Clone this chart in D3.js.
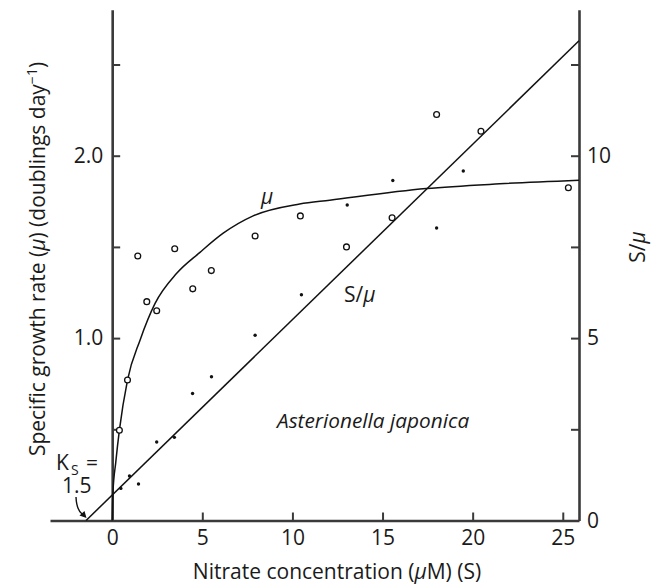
<!DOCTYPE html>
<html>
<head>
<meta charset="utf-8">
<script src="https://cdn.jsdelivr.net/npm/d3@7/dist/d3.min.js"></script>
<style>
  html, body { margin: 0; padding: 0; background: #fff; }
  svg { display: block; font-family: "Open Sans", sans-serif; }
</style>
</head>
<body>
<svg id="chart" width="654" height="585"></svg>
<script>
// ---- Data ----
// Open circles: specific growth rate mu vs nitrate S
const muPoints = [
  [0.40, 0.495], [0.85, 0.77], [1.42, 1.45], [1.92, 1.20], [2.47, 1.15],
  [3.47, 1.49], [4.47, 1.27], [5.50, 1.37], [7.93, 1.56], [10.44, 1.67],
  [13.0, 1.50], [15.53, 1.66], [18.0, 2.226], [20.46, 2.134], [25.31, 1.824]
];
// Small dots: S/mu vs S (right axis)
const sMuPoints = [
  [0.48, 0.88], [0.96, 1.22], [1.46, 1.00], [2.47, 2.15], [3.45, 2.28],
  [4.46, 3.48], [5.51, 3.94], [7.93, 5.08], [10.5, 6.19], [13.04, 8.65],
  [15.57, 9.32], [18.0, 8.02], [19.48, 9.58]
];
// Hand-drawn mu curve, traced
const muCurve = [
  [0, 0], [0.04, 0.15], [0.2, 0.32], [0.4, 0.495], [0.85, 0.77], [1.55, 0.99],
  [2.38, 1.19], [3.58, 1.355], [4.87, 1.47], [6.16, 1.575], [7.82, 1.67],
  [10.4, 1.735], [12.07, 1.756], [17.42, 1.82], [21.5, 1.846], [25.9, 1.866]
];
// Straight S/mu regression line, traced end points
const sMuLine = [[-1.45, 0], [25.9, 13.15]];

const xTicks = [0, 5, 10, 15, 20, 25];
const yLeftTicks = [0.5, 1.0, 1.5, 2.0, 2.5];
const yLeftLabels = [1.0, 2.0];
const yRightTicks = [0, 2.5, 5, 7.5, 10, 12.5];
const yRightLabels = [0, 5, 10];

// ---- Layout ----
const svg = d3.select("#chart");
const x = d3.scaleLinear().domain([-3.45, 25.9]).range([50, 579]);
const yL = d3.scaleLinear().domain([0, 2.8]).range([520.5, 9.8]);
const yR = d3.scaleLinear().domain([0, 14]).range([520.5, 9.8]);

const axisColor = "#3a3a3a";
const textColor = "#1a1a1a";
const tickFont = 21;
const titleFont = 21;

function styleAxis(g) {
  g.attr("font-family", null).attr("font-size", null);
  g.select(".domain").attr("stroke", axisColor).attr("stroke-width", 2.6);
  g.selectAll(".tick line").attr("stroke", axisColor).attr("stroke-width", 2);
  g.selectAll(".tick text").attr("fill", textColor)
    .style("font-family", '"Open Sans", sans-serif').style("font-size", tickFont + "px");
}

// Bottom axis
svg.append("g")
  .attr("transform", `translate(0,${yL(0)})`)
  .call(d3.axisBottom(x).tickValues(xTicks).tickSize(-8).tickSizeOuter(0).tickPadding(10)
    .tickFormat(d3.format("d")))
  .call(styleAxis)
  .call(g => g.selectAll(".tick").filter(d => d === 0).select("line").remove());

// Left axis
svg.append("g")
  .attr("transform", `translate(${x(0)},0)`)
  .call(d3.axisLeft(yL).tickValues(yLeftTicks).tickSize(-8).tickSizeOuter(0).tickPadding(9)
    .tickFormat(d => yLeftLabels.includes(d) ? d3.format(".1f")(d) : ""))
  .call(styleAxis);

// Right axis
svg.append("g")
  .attr("transform", `translate(${x.range()[1]},0)`)
  .call(d3.axisRight(yR).tickValues(yRightTicks).tickSize(-8).tickSizeOuter(0).tickPadding(8)
    .tickFormat(d => yRightLabels.includes(d) ? d3.format("d")(d) : ""))
  .call(styleAxis)
  .call(g => g.selectAll(".tick").filter(d => d === 0).select("line").remove());

// S/mu line
const lineR = d3.line().x(d => x(d[0])).y(d => yR(d[1]));
svg.append("path").datum(sMuLine).attr("d", lineR)
  .attr("fill", "none").attr("stroke", "#111").attr("stroke-width", 1.5);

// mu curve
const lineL = d3.line().x(d => x(d[0])).y(d => yL(d[1])).curve(d3.curveMonotoneX);
svg.append("path").datum(muCurve).attr("d", lineL)
  .attr("fill", "none").attr("stroke", "#111").attr("stroke-width", 1.5);

// Points
svg.append("g").selectAll("circle").data(muPoints).join("circle")
  .attr("cx", d => x(d[0])).attr("cy", d => yL(d[1])).attr("r", 2.9)
  .attr("fill", "#fff").attr("stroke", "#111").attr("stroke-width", 1.3);
svg.append("g").selectAll("circle").data(sMuPoints).join("circle")
  .attr("cx", d => x(d[0])).attr("cy", d => yR(d[1])).attr("r", 1.7)
  .attr("fill", "#111");

// Labels
svg.append("text").attr("x", 261).attr("y", 204)
  .attr("font-size", 21).attr("font-style", "italic").attr("fill", textColor).text("μ");
svg.append("text").attr("x", 344).attr("y", 302)
  .attr("font-size", 21).attr("fill", textColor)
  .call(t => { t.append("tspan").text("S/"); t.append("tspan").attr("font-style", "italic").text("μ"); });
svg.append("text").attr("x", 277).attr("y", 428)
  .attr("font-size", 20.8).attr("font-style", "italic").attr("fill", textColor)
  .text("Asterionella japonica");

// Axis titles
svg.append("text").attr("x", 337).attr("y", 579).attr("text-anchor", "middle")
  .attr("font-size", titleFont).attr("fill", textColor)
  .call(t => {
    t.append("tspan").text("Nitrate concentration (");
    t.append("tspan").attr("font-style", "italic").text("μ");
    t.append("tspan").text("M) (S)");
  });

svg.append("text").attr("transform", "translate(45,259) rotate(-90)").attr("text-anchor", "middle")
  .attr("font-size", titleFont).attr("fill", textColor)
  .call(t => {
    t.append("tspan").text("Specific growth rate (");
    t.append("tspan").attr("font-style", "italic").text("μ");
    t.append("tspan").text(") (doublings day");
    t.append("tspan").attr("font-size", 14).attr("dy", -8).text("−1");
    t.append("tspan").attr("dy", 8).text(")");
  });

svg.append("text").attr("transform", "translate(645,247) rotate(-90)").attr("text-anchor", "middle")
  .attr("font-size", titleFont).attr("fill", textColor)
  .call(t => { t.append("tspan").text("S/"); t.append("tspan").attr("font-style", "italic").text("μ"); });

// Ks annotation
svg.append("text").attr("x", 56).attr("y", 470).attr("font-size", 21).attr("fill", textColor).text("K");
svg.append("text").attr("x", 71).attr("y", 475).attr("font-size", 14).attr("fill", textColor).text("S");
svg.append("text").attr("x", 86).attr("y", 470).attr("font-size", 21).attr("fill", textColor).text("=");
svg.append("text").attr("x", 62).attr("y", 493).attr("font-size", 21).attr("fill", textColor).text("1.5");
svg.append("path").attr("d", "M76,497 Q76.5,510 82.5,514.5")
  .attr("fill", "none").attr("stroke", "#111").attr("stroke-width", 1.4);
svg.append("path").attr("d", "M86.5,518 L79.5,515.5 L84.5,511 Z").attr("fill", "#111");
</script>
</body>
</html>
